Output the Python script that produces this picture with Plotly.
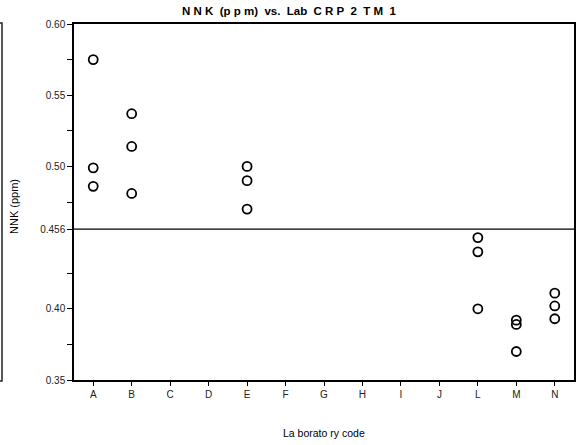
import plotly.graph_objects as go

labs = ["A", "B", "C", "D", "E", "F", "G", "H", "I", "J", "L", "M", "N"]
pt_lab = ["A", "A", "A", "B", "B", "B", "E", "E", "E", "L", "L", "L", "M", "M", "M", "N", "N", "N"]
pt_val = [0.575, 0.499, 0.486, 0.537, 0.514, 0.481, 0.500, 0.490, 0.470,
          0.450, 0.440, 0.400, 0.392, 0.389, 0.370, 0.411, 0.402, 0.393]
ref_val = 0.456
ytick_vals = [0.35, 0.375, 0.40, 0.425, 0.456, 0.475, 0.50, 0.525, 0.55, 0.575, 0.60]
ytick_text = ["0.35", "", "0.40", "", "0.456", "", "0.50", "", "0.55", "", "0.60"]

FONT = "Liberation Sans, Arial, sans-serif"

fig = go.Figure()
fig.add_trace(go.Scatter(
    x=pt_lab, y=pt_val, mode="markers",
    marker=dict(symbol="circle-open", size=9, color="black", line=dict(width=1.8, color="black")),
    showlegend=False, hoverinfo="x+y"))

fig.add_shape(type="line", xref="paper", yref="y", x0=0, x1=1, y0=ref_val, y1=ref_val,
              line=dict(color="black", width=1.2))
# partial frame at far left
fig.add_shape(type="path", xref="paper", yref="paper",
              path="M -0.152 1.003 L -0.144 1.003 L -0.144 -0.003 L -0.152 -0.003",
              line=dict(color="#222", width=1.5))

fig.add_annotation(text="<b>N N K  (p p m)  vs.  Lab  C R P  2  T M  1</b>", xref="paper", yref="paper",
                   x=(289 - 74) / 500, y=(380 - 11) / 356, xanchor="center", yanchor="middle",
                   showarrow=False, font=dict(size=11.5, color="black", family=FONT))
fig.add_annotation(text="La borato ry code", xref="paper", yref="paper",
                   x=0.5, y=(380 - 433) / 356, xanchor="center", yanchor="middle",
                   showarrow=False, font=dict(size=10.5, color="black", family=FONT))
fig.add_annotation(text="NNK (ppm)", xref="paper", yref="paper", textangle=-90,
                   x=(14 - 74) / 500, y=(380 - 207) / 356, xanchor="center", yanchor="middle",
                   showarrow=False, font=dict(size=11, color="black", family=FONT))

fig.update_layout(
    width=584, height=445,
    margin=dict(l=74, r=10, t=24, b=65, autoexpand=False),
    paper_bgcolor="white", plot_bgcolor="white",
    font=dict(family=FONT, size=10, color="#222"),
    xaxis=dict(type="category", categoryorder="array", categoryarray=labs,
               tickmode="array", tickvals=labs, ticktext=labs,
               range=[-0.5, len(labs) - 0.5], automargin=False,
               showline=True, linecolor="black", linewidth=1.5, mirror=True,
               ticks="outside", ticklen=4, tickcolor="black", tickwidth=1,
               showgrid=False, zeroline=False, tickfont=dict(size=10, color="#222")),
    yaxis=dict(range=[0.35, 0.60], tickmode="array", tickvals=ytick_vals, ticktext=ytick_text,
               automargin=False,
               showline=True, linecolor="black", linewidth=1.5, mirror=True,
               ticks="outside", ticklen=5, tickcolor="black", tickwidth=1,
               showgrid=False, zeroline=False, tickfont=dict(size=10, color="#222")),
)
fig.write_html("out.html")
